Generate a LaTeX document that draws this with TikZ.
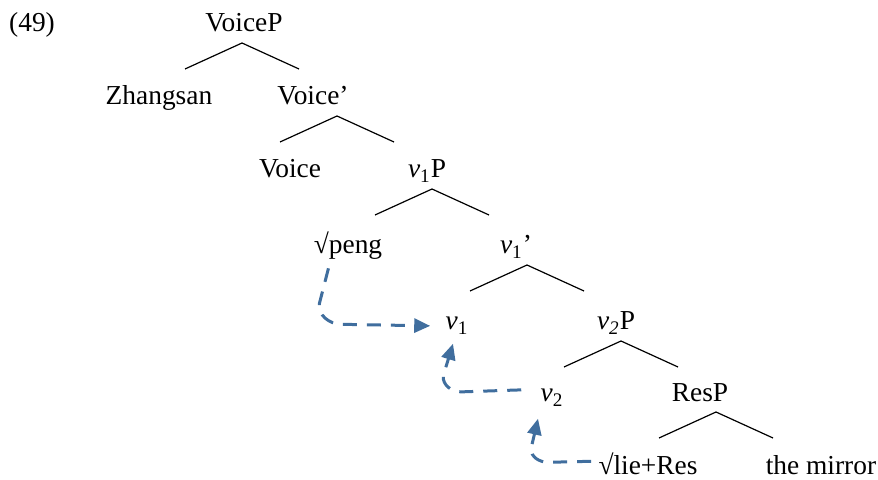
\documentclass[tikz,border=0pt]{standalone}
\usepackage{fontspec}
\setmainfont{Liberation Serif}
\usetikzlibrary{arrows.meta,calc}

\definecolor{movecol}{RGB}{64,110,158}

\tikzset{
    word/.style={anchor=base, inner sep=0pt, font=\fontsize{13.7}{16}\selectfont},
    movearrow/.style={draw=movecol, line width=1.5pt, dash pattern=on 7pt off 5pt,
        -{Triangle[length=8pt,width=7pt]}},
}

\newcommand{\vsub}[1]{\textit{v}\textsubscript{#1}}

\begin{document}
\begin{tikzpicture}[x=0.5pt, y=-0.5pt]
        \useasboundingbox (0,0) rectangle (878,480);

        \node[word] (num) at (32, 32) {(49)};

        \node[word] (VoiceP) at (244, 32) {VoiceP};
        \node[word] (Zhangsan) at (159, 105) {Zhangsan};
        \node[word] (VoiceBar) at (313, 105) {Voice’};
        \node[word] (Voice) at (290, 178) {Voice};
        \node[word] (v1P) at (427, 178) {\vsub{1}P};
        \node[word] (peng) at (348, 254) {√peng};
        \node[word] (v1Bar) at (516, 254) {\vsub{1}’};
        \node[word] (v1) at (457, 330) {\vsub{1}};
        \node[word] (v2P) at (616, 330) {\textit{v\textsubscript{2}}P};
        \node[word] (v2) at (552, 402) {\vsub{2}};
        \node[word] (ResP) at (700, 401) {ResP};
        \node[word] (lie) at (648, 474) {√lie+Res};
        \node[word] (mirror) at (821, 474) {the mirror};

        % branches
        \foreach \p/\dx in {VoiceP/-2, VoiceBar/24, v1P/5, v1Bar/11, v2P/5, ResP/16} {
            \draw[line width=0.6pt] ([shift={(\dx,11)}]\p.base) -- ++(-57,26)
                ([shift={(\dx,11)}]\p.base) -- ++(57,26);
        }

        % head movement
        \draw[movearrow] ($(peng.south west)+(15,8)$) -- ++(-9,35)
            to[out=-100,in=180] ++(22,21) -- ($(v1.west)+(-15,0)$);
        \draw[movearrow] ($(v2.west)+(-19,-8)$) -- ++(-60,2)
            to[out=180,in=-95] ++(-18,-16) -- ($(v1.south)+(-4,9)$);
        \draw[movearrow] ($(lie.west)+(-7,-2)$) -- ++(-43,1)
            to[out=180,in=-95] ++(-17,-14) -- ($(v2.south)+(-14,12)$);
    \end{tikzpicture}
\end{document}
